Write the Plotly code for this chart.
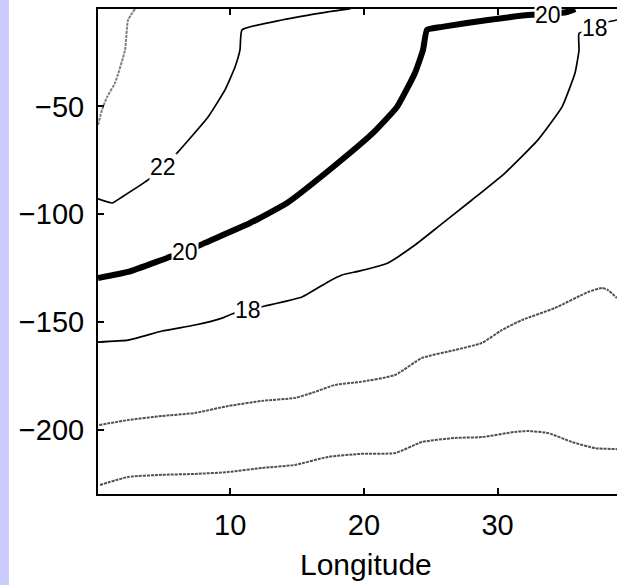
import plotly.graph_objects as go

# contour lines (longitude, depth)
c24_x = [2.88, 2.36, 2.13, 1.38, 0.79, 0.41, 0.11]
c24_y = [-4.8, -9.9, -23.8, -39.1, -45.6, -51.6, -58.6]

c22_x = [0.11, 1.16, 1.91, 3.85, 4.97, 6.10, 8.34, 9.61, 10.36, 10.73, 10.88, 13.87, 17.31, 19.0]
c22_y = [-92.9, -94.8, -92.0, -84.1, -78.1, -71.1, -54.9, -42.3, -31.7, -23.8, -14.5, -9.9, -6.1, -4.6]

c20_x = [0.11, 2.36, 5.27, 6.62, 8.11, 11.48, 14.25, 17.69, 20.68, 22.48, 23.82, 24.42,
         24.72, 25.84, 29.28, 32.57, 33.77, 35.26, 35.8]
c20_y = [-129.6, -126.8, -120.3, -117.5, -113.3, -104.1, -94.8, -78.1, -62.3, -50.2, -34.5, -23.8,
         -14.5, -13.1, -9.9, -7.5, -7.5, -6.1, -4.8]

c18_x = [0.11, 2.36, 4.90, 7.37, 9.39, 10.13, 11.33, 12.60, 15.37, 17.31, 18.36, 19.7, 21.8,
         23.82, 25.54, 28.08, 30.55, 33.02, 34.82, 35.79, 36.09, 36.09, 37.28, 38.26, 38.93]
c18_y = [-159.3, -158.4, -154.2, -151.4, -148.2, -146.3, -144.4, -142.6, -138.4, -131.4, -128.2,
         -126.3, -122.6, -114.3, -105.9, -93.4, -80.9, -65.5, -50.2, -34.5, -23.8, -16.1, -13.6,
         -10.8, -9.9]

c16_x = [0.2, 2.36, 4.90, 7.37, 9.84, 12.38, 14.85, 16.12, 17.84, 19.70, 22.33, 24.34, 26.81,
         28.83, 30.33, 31.82, 34.29, 36.76, 37.81, 38.26, 38.93]
c16_y = [-197.8, -195.5, -193.6, -192.2, -189.0, -186.6, -185.2, -182.9, -179.2, -177.8, -174.6,
         -166.7, -163.0, -159.7, -153.7, -149.1, -143.5, -136.1, -134.2, -135.2, -138.9]

c14_x = [0.26, 2.36, 4.90, 7.37, 9.84, 12.38, 14.85, 17.31, 19.70, 22.33, 24.34, 26.81, 28.83,
         31.30, 32.27, 33.77, 35.57, 37.28, 38.93]
c14_y = [-225.6, -221.9, -220.9, -220.5, -219.6, -217.7, -216.3, -212.6, -211.2, -210.8, -205.7,
         -203.8, -203.4, -201.0, -200.6, -201.5, -205.7, -208.5, -209.0]

# contour labels
lab_text = ["22", "20", "18", "20", "18"]
lab_x = [4.97, 6.62, 11.33, 33.77, 37.28]
lab_y = [-78.1, -117.5, -144.4, -7.5, -13.6]

FONT = "Liberation Sans, Arial, sans-serif"

fig = go.Figure()

solid = [(c22_x, c22_y, 1.7), (c20_x, c20_y, 6), (c18_x, c18_y, 1.7)]
for xs, ys, w in solid:
    fig.add_trace(go.Scatter(x=xs, y=ys, mode="lines",
                             line=dict(color="black", width=w, shape="spline", smoothing=0.4)))

dotted = [(c24_x, c24_y, "#808080"), (c16_x, c16_y, "#505050"), (c14_x, c14_y, "#505050")]
for xs, ys, col in dotted:
    fig.add_trace(go.Scatter(x=xs, y=ys, mode="lines",
                             line=dict(color=col, width=2, dash="3px,1px",
                                       shape="spline", smoothing=0.5)))

for t, x, y in zip(lab_text, lab_x, lab_y):
    fig.add_annotation(x=x, y=y, text=t, showarrow=False,
                       font=dict(family=FONT, size=23, color="black"),
                       bgcolor="white", borderpad=0)

fig.add_annotation(xref="paper", yref="paper", x=0.516, y=-0.145,
                   text="Longitude", showarrow=False, yanchor="middle",
                   font=dict(family=FONT, size=30, color="black"))

# lavender strip on the far left of the page
fig.add_shape(type="rect", xref="paper", yref="paper",
              x0=-98 / 519, x1=-89 / 519, y0=-91 / 485, y1=1 + 9 / 485,
              fillcolor="#ccccff", line=dict(width=0), layer="below")

fig.update_xaxes(range=[0.11, 38.93], tickvals=[10, 20, 30],
                 ticks="inside", ticklen=6, tickwidth=1.5, tickcolor="black",
                 showline=True, linecolor="black", linewidth=2, mirror="ticks",
                 showgrid=False, zeroline=False, ticklabelstandoff=4,
                 tickfont=dict(family=FONT, size=29, color="black"))
fig.update_yaxes(range=[-229.8, -4.8], tickvals=[-200, -150, -100, -50],
                 ticks="inside", ticklen=6, tickwidth=1.5, tickcolor="black",
                 showline=True, linecolor="black", linewidth=2,
                 showgrid=False, zeroline=False, ticklabelstandoff=6,
                 tickfont=dict(family=FONT, size=29, color="black"))

fig.update_layout(width=617, height=585, showlegend=False,
                  margin=dict(l=98, r=0, t=9, b=91),
                  plot_bgcolor="white", paper_bgcolor="white")

# drop the page's default body margin so the figure sits at the window corner
fig.write_html("out.html", config={"displayModeBar": False},
               post_script="document.body.style.margin='0';")
